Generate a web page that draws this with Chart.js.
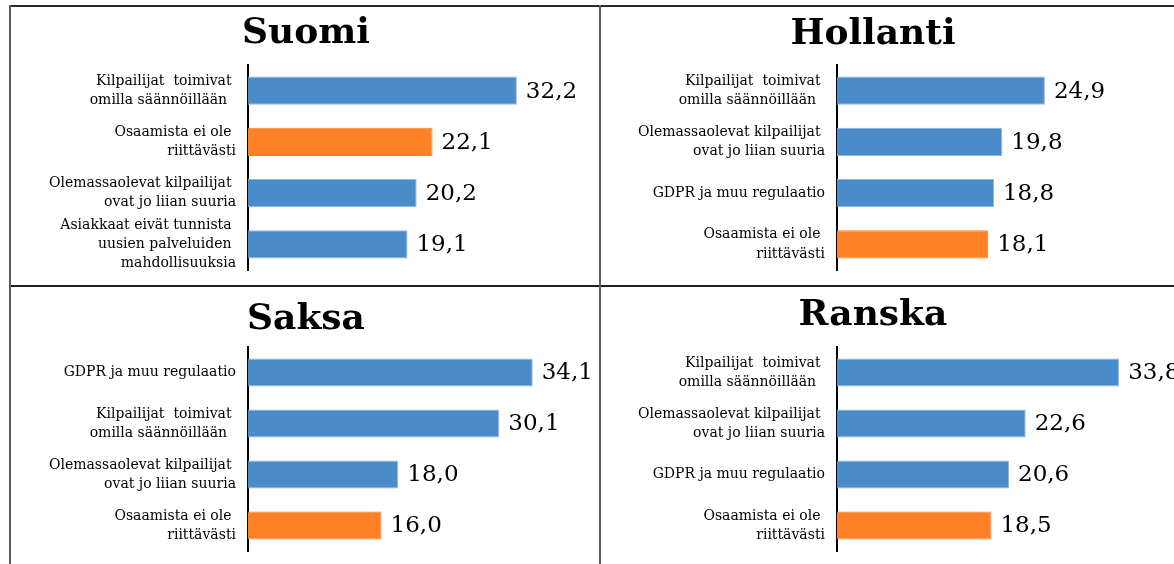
<!DOCTYPE html>
<html>
<head>
<meta charset="utf-8">
<script src="https://cdn.jsdelivr.net/npm/chart.js@4.4.1/dist/chart.umd.min.js"></script>
<style>
  html, body { margin: 0; padding: 0; background: #fff; overflow: hidden; }
  body { width: 1174px; height: 564px; position: relative; }
  .panel { position: absolute; }
  .line { position: absolute; }
</style>
</head>
<body>
<div class="line" style="left:9px;top:5px;width:1165px;height:2px;background:#2b2b2b"></div>
<div class="line" style="left:9px;top:285px;width:1165px;height:2px;background:#1e1e1e"></div>
<div class="line" style="left:9px;top:5px;width:2px;height:559px;background:#5a5a5a"></div>
<div class="line" style="left:599px;top:5px;width:2px;height:559px;background:#5a5a5a"></div>

<div class="panel" style="left:11px;top:7px"><canvas id="suomi" width="587" height="278"></canvas></div>
<div class="panel" style="left:601px;top:7px"><canvas id="hollanti" width="587" height="278"></canvas></div>
<div class="panel" style="left:11px;top:287px"><canvas id="saksa" width="587" height="277"></canvas></div>
<div class="panel" style="left:601px;top:287px"><canvas id="ranska" width="587" height="277"></canvas></div>

<script>
// Category labels (as wrapped in the original) and values, %
const suomiLabels = [
    ['Kilpailijat  toimivat ', 'omilla säännöillään  '],
    ['Osaamista ei ole ', 'riittävästi'],
    ['Olemassaolevat kilpailijat ', 'ovat jo liian suuria'],
    ['Asiakkaat eivät tunnista ', 'uusien palveluiden ', 'mahdollisuuksia']
];
const suomiValues = [32.2, 22.1, 20.2, 19.1];

const hollantiLabels = [
    ['Kilpailijat  toimivat ', 'omilla säännöillään  '],
    ['Olemassaolevat kilpailijat ', 'ovat jo liian suuria'],
    ['GDPR ja muu regulaatio'],
    ['Osaamista ei ole ', 'riittävästi']
];
const hollantiValues = [24.9, 19.8, 18.8, 18.1];

const saksaLabels = [
    ['GDPR ja muu regulaatio'],
    ['Kilpailijat  toimivat ', 'omilla säännöillään  '],
    ['Olemassaolevat kilpailijat ', 'ovat jo liian suuria'],
    ['Osaamista ei ole ', 'riittävästi']
];
const saksaValues = [34.1, 30.1, 18.0, 16.0];

const ranskaLabels = [
    ['Kilpailijat  toimivat ', 'omilla säännöillään  '],
    ['Olemassaolevat kilpailijat ', 'ovat jo liian suuria'],
    ['GDPR ja muu regulaatio'],
    ['Osaamista ei ole ', 'riittävästi']
];
const ranskaValues = [33.8, 22.6, 20.6, 18.5];

// the skills item is the highlighted bar in every panel
const highlightStart = 'Osaamista';

const blue = '#4a8bca';
const blueEdge = '#8fb8e2';
const orange = '#fe8126';

// Panel title drawn at a fixed spot
const panelTitle = {
    id: 'panelTitle',
    afterDraw(chart, args, opts) {
        const ctx = chart.ctx;
        ctx.save();
        ctx.font = 'bold 36px "DejaVu Serif"';
        ctx.fillStyle = '#000';
        ctx.textAlign = 'center';
        ctx.textBaseline = 'alphabetic';
        ctx.fillText(opts.text, opts.x, opts.y);
        ctx.restore();
    }
};

// Values at the end of each bar, decimal comma
const barValues = {
    id: 'barValues',
    afterDatasetsDraw(chart) {
        const ctx = chart.ctx;
        const meta = chart.getDatasetMeta(0);
        const data = chart.data.datasets[0].data;
        ctx.save();
        ctx.font = '23px "DejaVu Serif"';
        ctx.fillStyle = '#000';
        ctx.textAlign = 'left';
        ctx.textBaseline = 'middle';
        meta.data.forEach((bar, i) => {
            ctx.fillText(data[i].toFixed(1).replace('.', ','), bar.x + 9, bar.y + 1);
        });
        ctx.restore();
    }
};

function makePanel(id, title, labels, values, layout) {
    const colors = labels.map(l => l[0].startsWith(highlightStart) ? orange : blue);
    const edges = labels.map(l => l[0].startsWith(highlightStart) ? orange : blueEdge);
    return new Chart(document.getElementById(id), {
        type: 'bar',
        data: {
            labels: labels,
            datasets: [{
                data: values,
                backgroundColor: colors,
                borderColor: edges,
                borderWidth: 1,
                barPercentage: 0.55,
                categoryPercentage: 1
            }]
        },
        options: {
            indexAxis: 'y',
            responsive: false,
            devicePixelRatio: 1,
            animation: false,
            layout: { padding: { top: layout.top, bottom: layout.bottom, right: layout.right, left: 0 } },
            scales: {
                x: { display: false, min: 0, max: 40 },
                y: {
                    grid: { display: false, drawTicks: false },
                    border: { display: true, color: '#000', width: 2 },
                    ticks: {
                        autoSkip: false,
                        color: '#000',
                        padding: 12,
                        font: { family: '"DejaVu Serif"', size: 14, lineHeight: 1.36 }
                    },
                    afterFit(scale) {
                        scale.width = layout.axis;
                        // labels may overhang the plot, keep the plot height fixed
                        scale.paddingTop = 0;
                        scale.paddingBottom = 0;
                    }
                }
            },
            plugins: {
                legend: { display: false },
                tooltip: { enabled: false },
                panelTitle: { text: title, x: layout.titleX, y: layout.titleY }
            }
        },
        plugins: [panelTitle, barValues]
    });
}

makePanel('suomi', 'Suomi', suomiLabels, suomiValues,
    { axis: 237, top: 58, bottom: 15, right: 16, titleX: 295, titleY: 36 });
makePanel('hollanti', 'Hollanti', hollantiLabels, hollantiValues,
    { axis: 236, top: 58, bottom: 15, right: 17, titleX: 272, titleY: 37 });
makePanel('saksa', 'Saksa', saksaLabels, saksaValues,
    { axis: 237, top: 60, bottom: 13, right: 16, titleX: 295, titleY: 42 });
makePanel('ranska', 'Ranska', ranskaLabels, ranskaValues,
    { axis: 236, top: 60, bottom: 13, right: 17, titleX: 272, titleY: 38 });
</script>
</body>
</html>
